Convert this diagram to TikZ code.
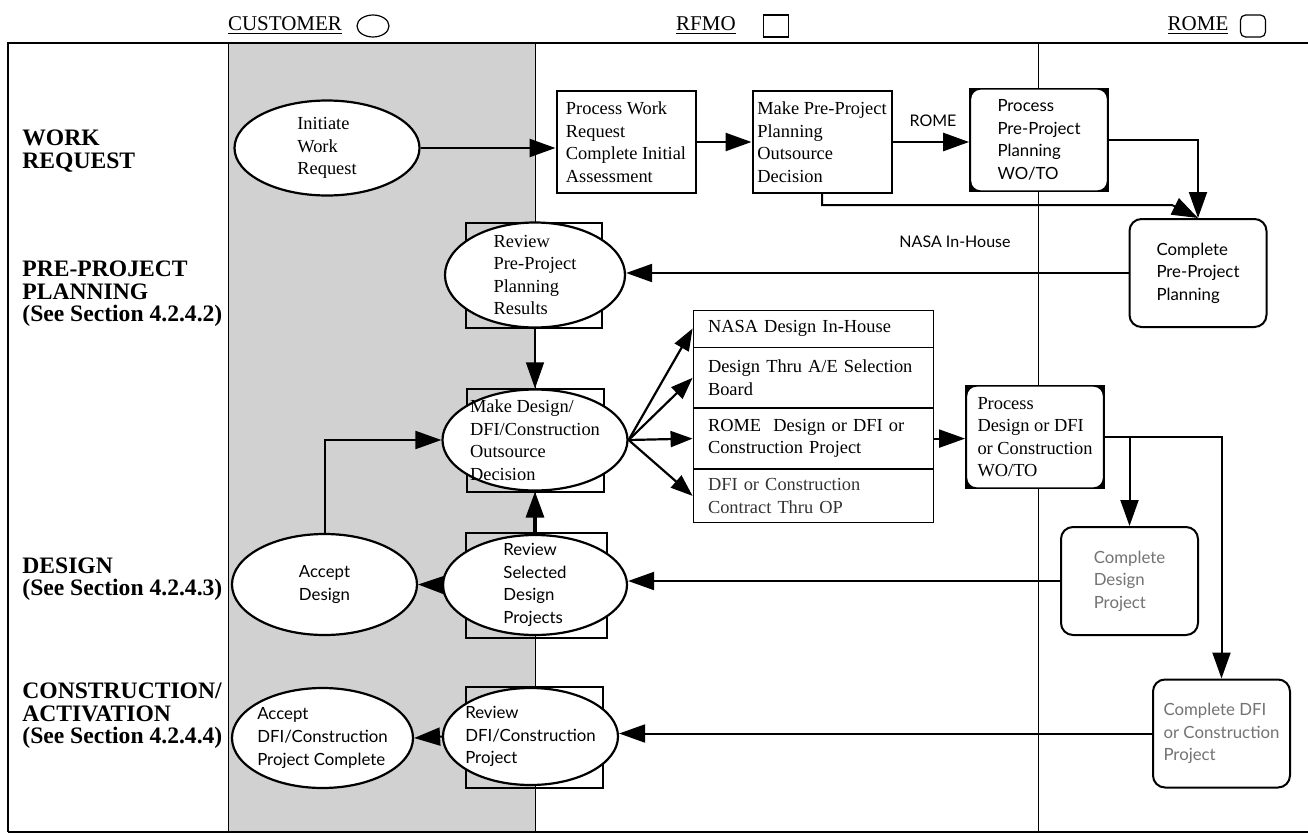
\documentclass[tikz,border=0pt]{standalone}
\usepackage{fontspec}
\setmainfont{Liberation Serif}
\newfontfamily\optfont{Lato}
\usetikzlibrary{arrows.meta,positioning,shapes.geometric}

\begin{document}
\begin{tikzpicture}[x=0.5pt, y=-0.5pt,
    txt/.style={font=\fontsize{9.2}{11.25}\selectfont, align=left},
    stxt/.style={font=\optfont\fontsize{8.4}{11.3}\selectfont, align=left},
    note/.style={font=\optfont\fontsize{8}{9.6}\selectfont, inner sep=1pt},
    head/.style={font=\fontsize{10.5}{12}\selectfont, inner sep=1pt},
    key/.style={draw, line width=0.6pt, inner sep=0pt, minimum width=12.5pt, minimum height=11pt},
    lane/.style={font=\bfseries\fontsize{11.8}{11.2}\selectfont, align=left, anchor=west, inner sep=0pt},
    lanefill/.style={fill=black!18},
    act/.style={ellipse, draw, line width=1.1pt, fill=white, inner sep=0pt},
    shared/.style={rectangle, draw, line width=1pt, inner sep=0pt},
    task/.style={rectangle, draw, line width=1pt, fill=white, inner sep=1.5pt, minimum width=69.5pt, minimum height=51pt, txt},
    order/.style={rectangle, draw, line width=0.9pt, fill=white, inner sep=2pt, minimum width=69pt, minimum height=51.5pt,
        path picture={
            \fill[black] (path picture bounding box.south west) rectangle (path picture bounding box.north east);
            \filldraw[fill=white, draw=black, line width=0.8pt, rounded corners=5pt]
                ([shift={(0.2pt,0.2pt)}]path picture bounding box.south west) rectangle ([shift={(-0.2pt,-0.2pt)}]path picture bounding box.north east);
        }},
    result/.style={rectangle, rounded corners=6pt, draw, line width=1pt, fill=white, minimum width=68.5pt, minimum height=54pt, stxt},
    option/.style={rectangle, draw, line width=0.4pt, fill=white, minimum width=120pt, text width=105pt, inner xsep=7pt, inner ysep=0pt, txt},
    arrow/.style={-{Triangle[length=13pt,width=9pt]}, line width=1pt}
]
    \useasboundingbox (0,0) rectangle (1308,835);

    % Lanes
    \fill[lanefill] (228,43) rectangle (535,832);
    \draw[line width=0.8pt] (8,832) -- (8,43) -- (1308,43);
    \draw[line width=0.8pt] (8,832) -- (1308,832);
    \draw[line width=0.5pt] (228,43) -- (228,832);
    \draw[line width=0.5pt] (535,43) -- (535,832);
    \draw[line width=0.4pt] (1038,43) -- (1038,832);

    % Header
    \node[head] (h-cust) at (285,26) {\underline{CUSTOMER}};
    \node[key, ellipse, minimum width=16pt] (k-cust) at (373,26) {};
    \node[head] (h-rfmo) at (706,26) {\underline{RFMO}};
    \node[key] (k-rfmo) at (776,26) {};
    \node[head] (h-rome) at (1198,26) {\underline{ROME}};
    \node[key, rounded corners=2.5pt] (k-rome) at (1253,26) {};

    % Phase labels
    \node[lane] (l-wr) at (22,151) {WORK\\REQUEST};
    \node[lane] (l-pp) at (22,294) {PRE-PROJECT\\PLANNING\\(See Section 4.2.4.2)};
    \node[lane] (l-de) at (22,579) {DESIGN\\(See Section 4.2.4.3)};
    \node[lane] (l-ca) at (22,716) {CONSTRUCTION/\\ACTIVATION\\(See Section 4.2.4.4)};

    % Work request
    \node[act, minimum width=92.5pt, minimum height=47.5pt, label={[txt]center:Initiate\\Work\\Request}] (init) at (327,148) {};
    \node[task] (pwr) at (626,142) {Process Work\\Request\\Complete Initial\\Assessment};
    \node[task, inner sep=0.5pt] (mpp) at (822,142) {Make Pre-Project\\Planning\\Outsource\\Decision};
    \node[order, stxt] (ppwo) at (1039,140) {Process\\Pre-Project\\Planning\\WO/TO};
    \node[note] (rome) at (933,121) {ROME};

    % Pre-project planning
    \node[result] (cpp) at (1198,273) {Complete\\Pre-Project\\Planning};
    \node[note] (nih) at (955,242) {NASA In-House};
    \node[shared, minimum width=68pt, minimum height=52.5pt] (rpp-bg) at (534,275) {};
    \node[act, minimum width=90pt, minimum height=52.5pt, label={[txt]center:Review\\Pre-Project\\Planning\\Results}] (rpp) at (535,275) {};

    % Outsource decision
    \node[shared, minimum width=68.5pt, minimum height=51.5pt] (mdd-bg) at (535,440) {};
    \node[act, minimum width=92.5pt, minimum height=50.5pt, label={[txt]center:Make Design/\\DFI/Construction\\Outsource\\Decision}] (mdd) at (535,440) {};
    \node[option, minimum height=18.5pt] (o1) at (813,328.5) {NASA Design In-House};
    \node[option, minimum height=30pt, below=0pt of o1] (o2) {Design Thru A/E Selection\\Board};
    \node[option, minimum height=30pt, below=0pt of o2] (o3) {ROME~ Design or DFI or\\Construction Project};
    \node[option, minimum height=26.5pt, below=0pt of o3, text=black!80] (o4) {DFI or Construction\\Contract Thru OP};
    \node[order, txt] (pdc) at (1035,437) {Process\\Design or DFI\\or Construction\\WO/TO};

    % Design
    \node[result, text=black!55] (cd) at (1129.5,581) {Complete\\Design\\Project};
    \node[act, minimum width=92.5pt, minimum height=50.5pt, label={[stxt]center:Accept\\Design}] (ad) at (324.5,584.5) {};
    \node[shared, minimum width=70.5pt, minimum height=52.5pt] (rsd-bg) at (536.5,585.5) {};
    \node[act, minimum width=92pt, minimum height=50pt, label={[stxt]center:Review\\Selected\\Design\\Projects}] (rsd) at (535,585) {};

    % Construction / activation
    \node[result, text=black!55] (cdfi) at (1221.5,733.5) {Complete DFI\\or Construction\\Project};
    \node[shared, minimum width=68.5pt, minimum height=50.5pt] (rdc-bg) at (534.5,737.5) {};
    \node[act, minimum width=87.5pt, minimum height=48.5pt, label={[stxt]center:Review\\DFI/Construction\\Project}] (rdc) at (530.5,736.5) {};
    \node[act, minimum width=90.5pt, minimum height=50pt, label={[stxt]center:Accept\\DFI/Construction\\Project Complete}] (adc) at (322.5,738) {};

    % Arrows
    \draw[arrow, line width=1.3pt] (init.east) -- (init.east -| pwr.west);
    \draw[arrow, line width=1.3pt] (pwr.east) -- (mpp.west);
    \draw[arrow, line width=1.3pt] (mpp.east) -- (mpp.east -| ppwo.west);
    \draw[arrow] (ppwo.east) -| (cpp.north);
    \coordinate (pp-turn) at (1172,205);
    \draw[arrow] (mpp.south) |- (pp-turn) -- (cpp.north);
    \draw[arrow] (cpp.west) -- (cpp.west -| rpp.east);
    \draw[arrow, line width=0.6pt] (rpp.south) -- (mdd.north);
    \foreach \o in {o1,o2,o3,o4}
        \draw[arrow, line width=1.1pt, -{Triangle[length=11pt,width=8pt]}] (mdd.east) -- (\o.west);
    \draw[arrow] (o3.east) -- (o3.east -| pdc.west);
    \draw[arrow] (pdc.east) -| (cdfi.north);
    \draw[arrow] (pdc.east -| cd.north) -- (cd.north);
    \draw[arrow] (cd.west) -- (cd.west -| rsd.east);
    \draw[arrow] (cdfi.west) -- (cdfi.west -| rdc.east);
    \draw[arrow] (rsd.west) -- (ad.east);
    \draw[arrow] (rdc.west) -- (adc.east);
    \draw[arrow, line width=1.6pt] (rsd.north) -- (mdd.south);
    \draw[arrow] (ad.north) |- (mdd.west);
\end{tikzpicture}
\end{document}
